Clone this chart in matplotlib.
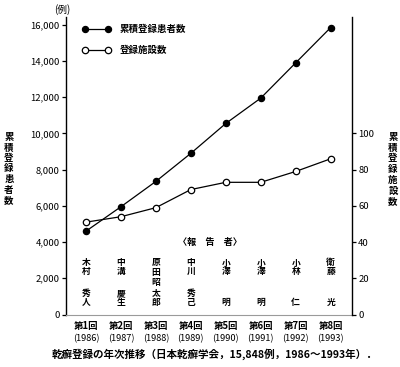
import matplotlib
matplotlib.use("Agg")
import matplotlib.pyplot as plt
from matplotlib import transforms

plt.rcParams['font.family'] = ['Noto Sans CJK JP', 'DejaVu Sans']

# ---- data ----
rounds = ['第1回', '第2回', '第3回', '第4回', '第5回', '第6回', '第7回', '第8回']
years = ['(1986)', '(1987)', '(1988)', '(1989)', '(1990)', '(1991)', '(1992)', '(1993)']
patients = [4600, 5950, 7350, 8900, 10550, 11950, 13900, 15848]
facilities = [51, 54, 59, 69, 73, 73, 79, 86]
reporter_family = ['木村', '中溝', '原田', '中川', '小澤', '小澤', '小林', '衛藤']
reporter_given = ['秀人', '慶生', '昭太郎', '秀己', '明', '明', '仁', '光']
left_ticks = [0, 2000, 4000, 6000, 8000, 10000, 12000, 14000, 16000]
right_ticks = [0, 20, 40, 60, 80, 100]
label_patients = '累積登録患者数'
label_facilities = '登録施設数'
ylabel_left = '累積登録患者数'
ylabel_right = '累積登録施設数'
caption = '乾癬登録の年次推移（日本乾癬学会，15,848例，1986〜1993年）．'

W, H = 400, 367
fig = plt.figure(figsize=(W / 100, H / 100), dpi=100)
ax = fig.add_axes([66 / W, 1 - 314.5 / H, (352 - 66) / W, (314.5 - 17) / H])
ax2 = ax.twinx()

x = list(range(1, len(rounds) + 1))
ax.plot(x, patients, color='black', lw=0.9, marker='o', ms=4.4,
        mfc='black', mec='black', zorder=3)
ax2.plot(x, facilities, color='black', lw=0.9, marker='o', ms=4.6,
         mfc='white', mec='black', mew=0.9, zorder=3)

ax.set_xlim(0.43, 8.61)
ax.set_ylim(0, 16430)
ax2.set_ylim(0, 164.3)

for a in (ax, ax2):
    a.spines['top'].set_visible(False)
    a.set_facecolor('none')
ax.spines['right'].set_visible(False)
ax2.spines['left'].set_visible(False)
ax2.spines['bottom'].set_visible(False)
ax.spines['left'].set_linewidth(1.0)
ax2.spines['right'].set_linewidth(1.0)
ax.spines['bottom'].set_color('#9a9a9a')
ax.spines['bottom'].set_linewidth(0.8)
ax.spines['bottom'].set_linestyle((0, (1, 1)))

tickfont = dict(family=['Noto Sans CJK JP', 'DejaVu Sans'], size=6.8)
ax.set_yticks(left_ticks)
ax.set_yticklabels([f'{v:,}' for v in left_ticks], fontdict=tickfont)
ax2.set_yticks(right_ticks)
ax2.set_yticklabels([str(v) for v in right_ticks], fontdict=tickfont)
ax.tick_params(axis='y', direction='out', length=3, width=0.9, pad=1.5)
ax2.tick_params(axis='y', direction='out', length=3, width=0.9, pad=1.5)
ax.set_xticks(x)
ax.set_xticklabels([])
ax.tick_params(axis='x', length=0)

bx = transforms.blended_transform_factory(ax.transData, fig.transFigure)

def fy(py):
    return 1 - py / H

# x labels
for xi, r, yr in zip(x, rounds, years):
    ax.text(xi, fy(326.5), r, transform=bx, ha='center', va='center',
            fontsize=6.8, fontweight='bold')
    ax.text(xi, fy(338.5), yr, transform=bx, ha='center', va='center',
            fontsize=6.6)

# reporter names (vertical)
top_c, bot_c, pitch = 263.0, 302.0, 8.6
for xi, fam, giv in zip(x, reporter_family, reporter_given):
    n = len(fam) + len(giv)
    if n >= 5:
        p = (bot_c - top_c) / (n - 1)
        ys = [top_c + i * p for i in range(n)]
        chars = fam + giv
    else:
        ys = [top_c + i * pitch for i in range(len(fam))]
        ys += [bot_c - (len(giv) - 1 - i) * pitch for i in range(len(giv))]
        chars = fam + giv
    for ch, yy in zip(chars, ys):
        ax.text(xi, fy(yy), ch, transform=bx, ha='center', va='center',
                fontsize=6.3, fontweight='bold')

fig.text(210 / W, fy(242.5), '〈報　告　者〉', ha='center', va='center',
         fontsize=6.6, fontweight='bold')

# legend
lx0, lx1 = 85 / W, 108 / W
for yy, filled, lab in ((29, True, label_patients), (50, False, label_facilities)):
    fig.lines.append(plt.Line2D([lx0, lx1], [fy(yy), fy(yy)], transform=fig.transFigure,
                                color='black', lw=0.9, marker='o',
                                ms=4.4 if filled else 4.6,
                                mfc='black' if filled else 'white',
                                mec='black', mew=0.9))
    fig.text(120 / W, fy(yy), lab, ha='left', va='center', fontsize=6.8,
             fontweight='bold')

# y labels (vertical stacked)
for i, ch in enumerate(ylabel_left):
    fig.text(9 / W, fy(137 + i * 10.5), ch, ha='center', va='center',
             fontsize=6.8, fontweight='bold')
for i, ch in enumerate(ylabel_right):
    fig.text(393 / W, fy(137 + i * 10.7), ch, ha='center', va='center',
             fontsize=6.8, fontweight='bold')

fig.text(62 / W, fy(10), '(例)', ha='center', va='center', fontsize=7)

fig.text(214 / W, fy(354.5), caption, ha='center', va='center',
         fontsize=7.6, fontweight='bold')

fig.savefig('out.png', dpi=100)
